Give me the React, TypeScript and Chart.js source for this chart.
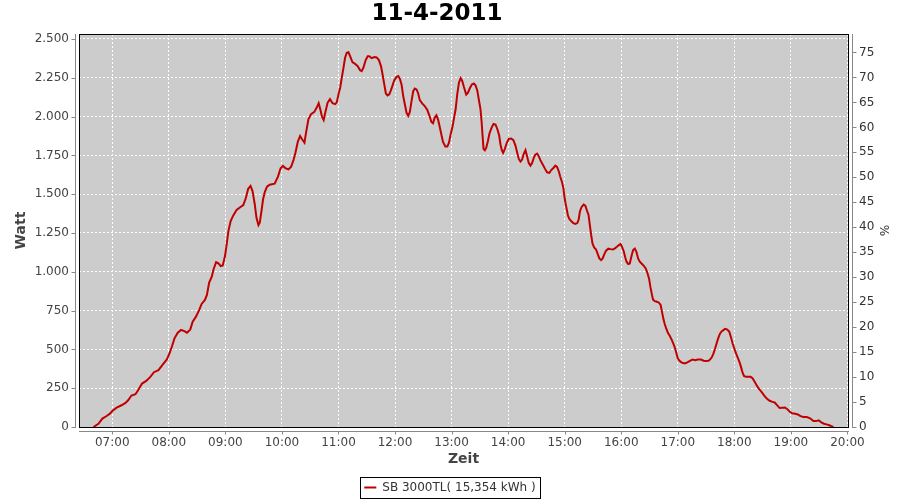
import React, { useEffect, useRef } from 'react';
import { Chart, registerables } from 'chart.js';

Chart.register(...registerables);

const chartTitle = '11-4-2011';
const seriesLabel = 'SB 3000TL( 15,354 kWh )';
const xAxisTitle = 'Zeit';
const yAxisTitle = 'Watt';
const y2AxisTitle = '%';

const hourTicks = [7, 8, 9, 10, 11, 12, 13, 14, 15, 16, 17, 18, 19, 20];
const wattTicks = [0, 250, 500, 750, 1000, 1250, 1500, 1750, 2000, 2250, 2500];
const percentTicks = [0, 5, 10, 15, 20, 25, 30, 35, 40, 45, 50, 55, 60, 65, 70, 75];

// time of day in minutes since midnight
const timeMinutes = [
  400, 405.3, 409.5, 414, 417.5, 420, 424.6, 429.8, 434, 436.8, 440.4, 444.6, 447.4, 451.6, 456, 460.4,
  464.2, 469, 473.7, 477.9, 480.7, 483.2, 486, 489.5, 493, 496.5, 499.3, 502.8, 505.3, 508.8, 512.3,
  514.8, 518.3, 520.4, 522.8, 525.6, 527.4, 530.2, 532.6, 535.1, 537.2, 539.6, 541.4, 543.2, 545.6,
  548.4, 551.9, 556.1, 559, 561.8, 564.2, 566.7, 568.8, 571.2, 573, 575.1, 576.5, 578.3, 580, 581.8,
  584.2, 587, 592.3, 595.8, 598.6, 601.1, 603.9, 607, 609.8, 612.3, 614.4, 616.9, 619.3, 621.4, 623.9,
  625.6, 628.1, 630.9, 634.4, 636.9, 639, 640.7, 642.5, 644.3, 646, 648.5, 651, 653.7, 656.5, 658.2,
  660, 661.8, 663.5, 665.3, 667, 668.8, 670.6, 672.3, 674.8, 677.6, 680.4, 682.9, 684.6, 686.4, 688.9,
  691, 692.7, 695.2, 698, 700.5, 702.9, 705.1, 706.8, 708.6, 710.3, 712.1, 713.9, 715.6, 717.4, 719.1,
  721.6, 723.4, 725.1, 726.9, 728.7, 730.4, 732.2, 734, 735.7, 737.5, 739.3, 741, 742.8, 744.6, 746.3,
  748.8, 751.5, 754.3, 756.8, 758.6, 760.3, 762.1, 763.9, 765.6, 767.4, 769.1, 770.9, 773.4, 775.5,
  777.2, 779, 780.8, 782.5, 784.3, 786, 787.8, 789.6, 791.3, 793.1, 795.5, 797.3, 799.1, 801.5, 803.6,
  805.4, 807.2, 808.9, 810.7, 811.8, 812.8, 813.9, 815.3, 816.7, 818.5, 820.2, 822.4, 824.5, 826.6,
  828.7, 830.5, 831.9, 833.3, 834.7, 836.5, 838.6, 840.7, 843.2, 845.6, 847.8, 849.5, 851.3, 853.1,
  854.8, 856.6, 858.4, 860.1, 861.9, 863.7, 865.4, 867.2, 868.9, 870.7, 872.5, 874.2, 876.7, 879.2,
  881.3, 883.8, 885.5, 888, 890.1, 891.9, 893.7, 895.4, 897.2, 898.6, 899.7, 900.7, 902.1, 903.5, 905,
  907.1, 909.2, 911.3, 913.4, 914.8, 916.2, 918, 920.1, 921.9, 923.6, 925.3, 926.7, 928.1, 929.5, 931.2,
  933.3, 935.1, 936.8, 938.6, 940.3, 942.1, 943.9, 946.3, 948.8, 951.2, 953.3, 955.4, 957.5, 959.3,
  961.1, 962.8, 964.2, 965.6, 967.4, 969.1, 970.9, 972.6, 974.4, 976.1, 977.9, 979.7, 982.1, 984.2, 986,
  987.7, 989.5, 990.9, 992.3, 993.7, 995.5, 997.9, 1000, 1001.8, 1003.2, 1004.6, 1006, 1007.7, 1009.5,
  1011.6, 1013.7, 1015.5, 1017.2, 1018.6, 1020, 1021.8, 1023.5, 1026, 1028.1, 1030.6, 1033.4, 1035.8,
  1038.6, 1041.1, 1044.6, 1047.4, 1049.9, 1052.7, 1054.6, 1056.1, 1057.9, 1059.6, 1061.4, 1063.2, 1064.9,
  1066.7, 1068.4, 1070.2, 1072.6, 1074.7, 1076.5, 1078.2, 1080, 1081.8, 1083.5, 1085.3, 1087, 1088.4,
  1090.2, 1092.3, 1094.7, 1097.2, 1099.3, 1101.4, 1103.5, 1105.6, 1107.7, 1109.8, 1112.3, 1114.7, 1117.5,
  1120.4, 1122.8, 1125.3, 1128.1, 1130.9, 1133.7, 1136.2, 1138.6, 1141.4, 1144.6, 1147.4, 1150.2, 1153.4,
  1156.9, 1160.4, 1163.9, 1166.7, 1169.5, 1172.3, 1175.1, 1177.9, 1180.8, 1183.6, 1185,
];

// power in Watt
const wattValues = [
  0, 21, 54, 71, 86, 103, 125, 140, 155, 172, 203, 211, 237, 280, 297, 323,
  353, 366, 403, 435, 474, 517, 571, 608, 625, 618, 608, 629, 679, 711, 754,
  793, 819, 851, 930, 968, 1015, 1062, 1054, 1037, 1041, 1101, 1176, 1262, 1327,
  1363, 1398, 1417, 1430, 1477, 1535, 1553, 1520, 1434, 1348, 1301, 1316, 1391, 1467, 1514,
  1548, 1561, 1568, 1613, 1667, 1682, 1667, 1660, 1677, 1720, 1768, 1839, 1875, 1854, 1832,
  1897, 1983, 2015, 2030, 2058, 2086, 2047, 2000, 1978, 2026, 2090, 2112, 2086, 2080, 2092,
  2143, 2186, 2250, 2314, 2379, 2411, 2415, 2389, 2351, 2340, 2325, 2299, 2293, 2314, 2364,
  2389, 2389, 2376, 2383, 2381, 2364, 2325, 2271, 2207, 2149, 2136, 2143, 2169, 2201, 2233,
  2256, 2261, 2244, 2207, 2132, 2079, 2025, 2004, 2029, 2100, 2164, 2181, 2175, 2149, 2106,
  2085, 2068, 2042, 2000, 1965, 1957, 1993, 2008, 1982, 1935, 1886, 1837, 1807, 1807,
  1832, 1886, 1929, 1987, 2047, 2143, 2218, 2248, 2230, 2190, 2142, 2153, 2179, 2207, 2213,
  2201, 2170, 2110, 2046, 1970, 1884, 1792, 1783, 1798, 1841, 1891, 1927, 1953, 1949,
  1917, 1878, 1820, 1783, 1766, 1792, 1831, 1856, 1859, 1848, 1813, 1770, 1727, 1710,
  1723, 1760, 1783, 1744, 1701, 1684, 1701, 1734, 1755, 1762, 1745, 1719, 1691, 1663,
  1641, 1637, 1654, 1669, 1684, 1676, 1648, 1611, 1577, 1540, 1486, 1448, 1405, 1362, 1340,
  1325, 1314, 1308, 1314, 1336, 1390, 1418, 1433, 1426, 1395, 1366, 1301, 1237, 1183, 1157,
  1144, 1114, 1086, 1075, 1086, 1114, 1136, 1149, 1146, 1144, 1151, 1161, 1172, 1179,
  1157, 1129, 1093, 1065, 1050, 1054, 1101, 1140, 1149, 1129, 1086, 1065, 1050, 1037, 1022,
  994, 957, 904, 861, 822, 811, 807, 801, 786, 743, 700, 667, 635, 607,
  586, 560, 534, 506, 474, 442, 427, 418, 410, 410, 418, 427, 435,
  431, 435, 435, 427, 425, 427, 437, 449, 474, 506, 543, 577, 603,
  617, 624, 632, 628, 613, 577, 538, 506, 474, 449, 421, 389, 357,
  329, 323, 323, 323, 314, 293, 271, 250, 235, 218, 197, 182, 169,
  162, 158, 141, 122, 124, 126, 115, 100, 88, 85, 81, 70, 64,
  64, 56, 38, 38, 43, 30, 21, 17, 11, 4, 0,
];

const FONT = '"DejaVu Sans", sans-serif';

function formatThousands(v: number): string {
  if (v >= 1000) {
    const k = Math.floor(v / 1000);
    const r = Math.round(v % 1000);
    return `${k}.${String(r).padStart(3, '0')}`;
  }
  return String(v);
}

function formatHour(v: number): string {
  return `${String(Math.round(v / 60)).padStart(2, '0')}:00`;
}

const plotDecor = {
  id: 'plotDecor',
  beforeDraw(chart: any) {
    const { ctx, chartArea: a } = chart;
    ctx.save();
    ctx.fillStyle = '#cccccc';
    ctx.fillRect(a.left, a.top, a.right - a.left + 1, a.bottom - a.top + 1);
    ctx.restore();
  },
  afterDatasetsDraw(chart: any) {
    const { ctx, chartArea: a } = chart;
    ctx.save();
    ctx.strokeStyle = '#000000';
    ctx.lineWidth = 1;
    ctx.strokeRect(a.left + 0.5, a.top + 0.5, a.right - a.left, a.bottom - a.top);
    ctx.restore();
  },
  afterDraw(chart: any) {
    const { ctx, chartArea: a } = chart;
    const ys = chart.scales.y;
    const ys2 = chart.scales.y1;
    const xs = chart.scales.x;
    ctx.save();

    // chart title
    ctx.fillStyle = '#000000';
    ctx.font = `bold 23px ${FONT}`;
    ctx.textAlign = 'center';
    ctx.textBaseline = 'middle';
    ctx.fillText(chartTitle, 437, 14.5);

    ctx.strokeStyle = '#888888';
    ctx.lineWidth = 1;
    ctx.beginPath();
    // left axis
    const lx = a.left - 3.5;
    ctx.moveTo(lx, a.top);
    ctx.lineTo(lx, a.bottom + 1);
    wattTicks.forEach((v) => {
      const p = Math.round(ys.getPixelForValue(v)) + 0.5;
      ctx.moveTo(lx - 4, p);
      ctx.lineTo(lx, p);
    });
    // right axis
    const rx = a.right + 4.5;
    ctx.moveTo(rx, a.top);
    ctx.lineTo(rx, a.bottom + 1);
    percentTicks.forEach((v) => {
      const p = Math.round(ys2.getPixelForValue(v)) + 0.5;
      ctx.moveTo(rx, p);
      ctx.lineTo(rx + 4, p);
    });
    // bottom axis
    const by = a.bottom + 4.5;
    ctx.moveTo(a.left, by);
    ctx.lineTo(a.right + 1, by);
    hourTicks.forEach((h) => {
      const p = Math.round(xs.getPixelForValue(h * 60)) + 0.5;
      ctx.moveTo(p, by);
      ctx.lineTo(p, by + 3);
    });
    ctx.stroke();

    // legend frame
    const hb = chart.legend && chart.legend.legendHitBoxes && chart.legend.legendHitBoxes[0];
    if (hb) {
      const cy = hb.top + hb.height / 2;
      ctx.strokeStyle = '#000000';
      ctx.strokeRect(Math.round(hb.left - 4) + 0.5, Math.round(cy - 10.5) + 0.5, Math.round(hb.width + 9), 21);
    }
    ctx.restore();
  },
};

export default function App() {
  const canvasRef = useRef<HTMLCanvasElement | null>(null);

  useEffect(() => {
    const canvas = canvasRef.current;
    if (!canvas) return;
    const data = timeMinutes.map((t, i) => ({ x: t, y: wattValues[i] }));
    const chart = new Chart(canvas, {
      type: 'line',
      data: {
        datasets: [
          {
            label: seriesLabel,
            data,
            borderColor: '#c00000',
            backgroundColor: '#c00000',
            borderWidth: 2,
            pointRadius: 0,
            tension: 0,
            yAxisID: 'y',
            xAxisID: 'x',
          },
        ],
      },
      options: {
        responsive: false,
        animation: false,
        devicePixelRatio: 1,
        layout: { padding: { left: 0, right: 0, top: 34, bottom: -3.5 } },
        plugins: {
          title: { display: false },
          legend: {
            display: true,
            position: 'bottom',
            labels: {
              usePointStyle: true,
              pointStyle: 'line',
              pointStyleWidth: 12,
              padding: 0,
              color: '#333333',
              font: { family: FONT, size: 12 },
            },
          },
          tooltip: { enabled: false },
        },
        scales: {
          x: {
            type: 'linear',
            position: 'bottom',
            min: 384.7,
            max: 1200.6,
            afterBuildTicks: (s: any) => {
              s.ticks = hourTicks.map((h) => ({ value: h * 60 }));
            },
            afterFit: (s: any) => {
              s.height = 54.5;
            },
            ticks: {
              callback: (v: any) => formatHour(Number(v)),
              color: '#444444',
              font: { family: FONT, size: 12 },
              padding: 9,
              maxRotation: 0,
              autoSkip: false,
            },
            grid: { color: '#ffffff', drawTicks: false, lineWidth: 1 },
            border: { display: false, dash: [2, 2] },
            title: {
              display: true,
              text: xAxisTitle,
              color: '#444444',
              font: { family: FONT, size: 14, weight: 'bold', lineHeight: 1 },
              padding: { top: 0, bottom: 15 },
            },
          },
          y: {
            type: 'linear',
            position: 'left',
            min: 0,
            max: 2532,
            afterBuildTicks: (s: any) => {
              s.ticks = wattTicks.map((v) => ({ value: v }));
            },
            afterFit: (s: any) => {
              s.width = 79;
            },
            ticks: {
              callback: (v: any) => formatThousands(Number(v)),
              color: '#444444',
              font: { family: FONT, size: 12 },
              padding: 10,
            },
            grid: { color: '#ffffff', drawTicks: false, lineWidth: 1 },
            border: { display: false, dash: [2, 2] },
            title: {
              display: true,
              text: yAxisTitle,
              color: '#444444',
              font: { family: FONT, size: 14, weight: 'bold', lineHeight: 1 },
              padding: { top: 14, bottom: 0 },
            },
          },
          y1: {
            type: 'linear',
            position: 'right',
            min: 0,
            max: 78.7,
            afterBuildTicks: (s: any) => {
              s.ticks = percentTicks.map((v) => ({ value: v }));
            },
            afterFit: (s: any) => {
              s.width = 52;
            },
            ticks: {
              color: '#333333',
              font: { family: FONT, size: 12 },
              padding: 11,
            },
            grid: { display: false, drawTicks: false },
            border: { display: false },
            title: {
              display: true,
              text: y2AxisTitle,
              color: '#333333',
              font: { family: FONT, size: 12, lineHeight: 1 },
              padding: { top: 11, bottom: 0 },
            },
          },
        },
      } as any,
      plugins: [plotDecor],
    });
    return () => {
      chart.destroy();
    };
  }, []);

  return (
    <div style={{ position: 'fixed', left: 0, top: 0, width: 900, height: 500, background: '#ffffff' }}>
      <canvas ref={canvasRef} width={900} height={500} style={{ display: 'block' }} />
    </div>
  );
}
